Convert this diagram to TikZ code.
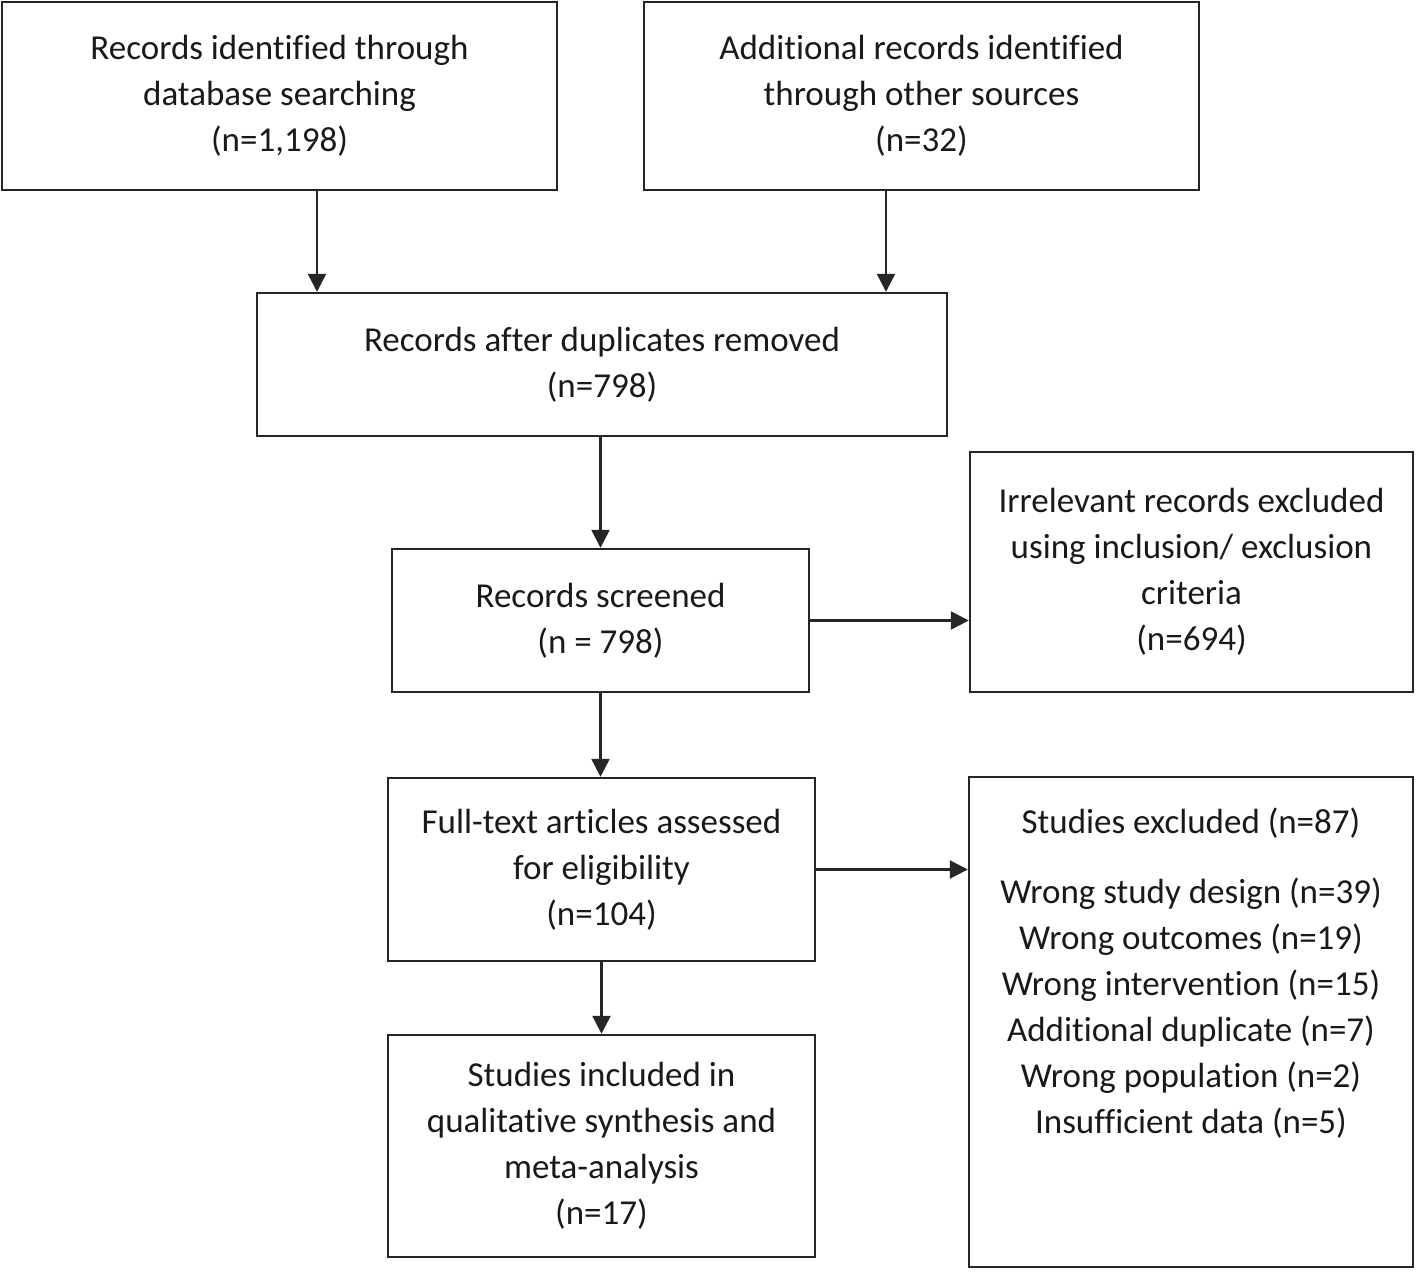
\documentclass[tikz,border=0pt]{standalone}
\usepackage{fontspec}
\setmainfont{Carlito}[Ligatures=NoCommon]
\usetikzlibrary{arrows.meta}

\tikzset{
  box/.style={draw=black!85, line width=1.2pt, inner sep=0pt, align=center,
    text=black!90, font=\fontsize{17.5}{23}\selectfont},
  arr/.style={draw=black!85, line width=1.2pt, -{Triangle[length=9pt, width=9pt]}}
}

\begin{document}
\begin{tikzpicture}[x=0.5pt, y=-0.5pt]
    \useasboundingbox (0, 0) rectangle (1418, 1273);
    % boxes
    \node[box, minimum width=277.5pt, minimum height=94pt] (ident) at (279.5, 96)
      {Records identified through\\database searching\\(n=1,198)};
    \node[box, minimum width=277.5pt, minimum height=94pt] (other) at (921.5, 96)
      {Additional records identified\\through other sources\\(n=32)};
    \node[box, minimum width=345pt, minimum height=71.5pt] (dedup) at (602, 364.5)
      {Records after duplicates removed\\(n=798)};
    \node[box, minimum width=208.5pt, minimum height=71.5pt] (screen) at (600.5, 620.5)
      {Records screened\\(n = 798)};
    \node[box, minimum width=221.5pt, minimum height=120pt] (irrel) at (1191.5, 572)
      {Irrelevant records excluded\\using inclusion/ exclusion\\criteria\\(n=694)};
    \node[box, minimum width=213.5pt, minimum height=91.5pt] (fulltext) at (601.5, 869.5)
      {Full-text articles assessed\\for eligibility\\(n=104)};
    \node[box, minimum width=222pt, minimum height=245pt] (excl) at (1191, 1022) {};
    \node[box, draw=none] (excltxt) at (1191, 973)
      {Studies excluded (n=87)\\[12pt]Wrong study design (n=39)\\Wrong outcomes (n=19)\\
       Wrong intervention (n=15)\\Additional duplicate (n=7)\\Wrong population (n=2)\\
       Insufficient data (n=5)};
    \node[box, minimum width=213.5pt, minimum height=111pt] (incl) at (601.5, 1146)
      {Studies included in\\qualitative synthesis and\\meta-analysis\\(n=17)};
    % arrows
    \draw[arr] (ident.south -| 317,0) -- (dedup.north -| 317,0);
    \draw[arr] (other.south -| 886,0) -- (dedup.north -| 886,0);
    \draw[arr] (dedup.south -| screen.north) -- (screen.north);
    \draw[arr] (screen.east) -- (screen.east -| irrel.west);
    \draw[arr] (screen.south) -- (screen.south |- fulltext.north);
    \draw[arr] (fulltext.east) -- (fulltext.east -| excl.west);
    \draw[arr] (fulltext.south) -- (fulltext.south |- incl.north);
\end{tikzpicture}
\end{document}
